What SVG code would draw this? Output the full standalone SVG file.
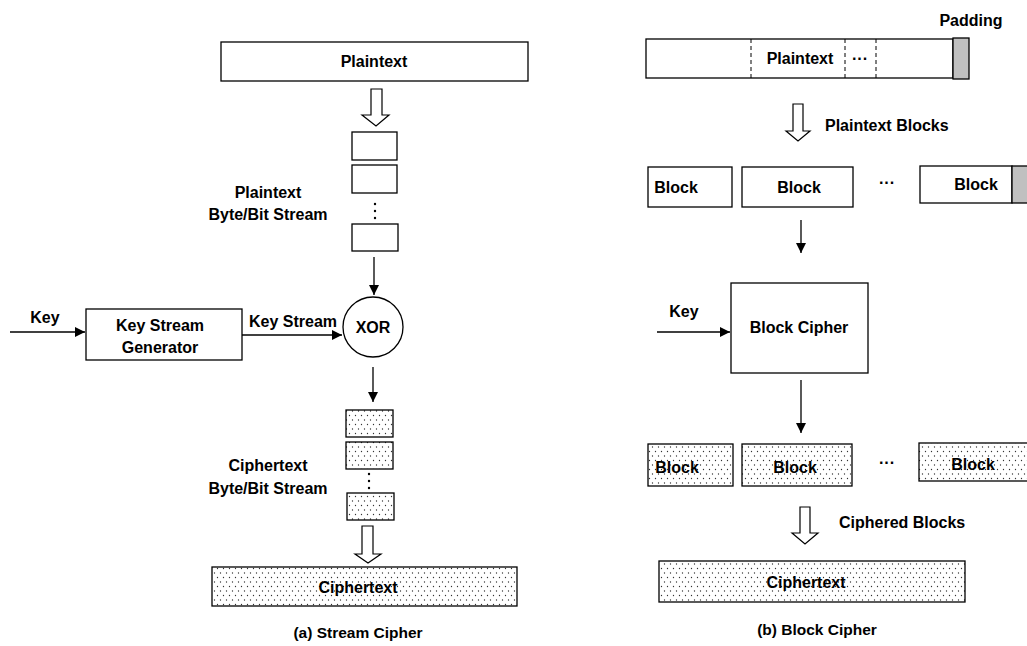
<svg xmlns="http://www.w3.org/2000/svg" width="1027" height="646" viewBox="0 0 1027 646">
<defs>
<pattern id="dots" width="6" height="9" patternUnits="userSpaceOnUse">
<rect width="6" height="9" fill="#fff"/>
<circle cx="1.5" cy="1.5" r="0.65" fill="#333"/>
<circle cx="4.5" cy="6" r="0.65" fill="#333"/>
</pattern>
<marker id="arr" viewBox="0 0 10 10" refX="10" refY="5" markerWidth="10" markerHeight="10" markerUnits="userSpaceOnUse" orient="auto">
<path d="M0,0 L10,5 L0,10 z" fill="#000"/>
</marker>
</defs>
<style>
text{font-family:"Liberation Sans",Arial,sans-serif;font-weight:bold;font-size:16px;fill:#000}
.m{text-anchor:middle}
.cap{font-size:15.5px}
.box{fill:#fff;stroke:#000;stroke-width:1.3}
.dot{fill:url(#dots);stroke:#000;stroke-width:1.3}
.pad{fill:#c0c0c0;stroke:#000;stroke-width:1.3}
.ln{stroke:#000;stroke-width:1.3;fill:none}
.hol{fill:#fff;stroke:#000;stroke-width:1.2}
.dash{stroke:#000;stroke-width:1;stroke-dasharray:4,3}
</style>
<rect width="1027" height="646" fill="#fff"/>

<!-- (a) Stream cipher -->
<g id="plaintext-a"><rect class="box" x="221" y="42" width="307" height="39"/><text class="m" x="374" y="67">Plaintext</text></g>
<g id="pt-stream">
<rect class="box" x="352" y="132" width="45" height="28"/>
<rect class="box" x="352" y="165" width="45" height="28"/>
<circle cx="375" cy="204" r="1.2"/><circle cx="375" cy="211" r="1.2"/><circle cx="375" cy="218" r="1.2"/>
<rect class="box" x="352" y="224" width="46" height="27"/>
<text class="m" x="268" y="198">Plaintext</text>
<text class="m" x="268" y="220">Byte/Bit Stream</text>
</g>
<g id="keygen"><rect class="box" x="86" y="309" width="156" height="51"/><text class="m" x="160" y="331">Key Stream</text><text class="m" x="160" y="353">Generator</text></g>
<g id="xor"><circle class="box" cx="373" cy="327" r="30"/><text class="m" x="373" y="333">XOR</text></g>
<g id="ct-stream">
<rect class="dot" x="346" y="410" width="47" height="27"/>
<rect class="dot" x="346" y="442" width="47" height="27"/>
<circle cx="369" cy="474" r="1.2"/><circle cx="369" cy="481" r="1.2"/><circle cx="369" cy="488" r="1.2"/>
<rect class="dot" x="347" y="493" width="47" height="27"/>
<text class="m" x="268" y="471">Ciphertext</text>
<text class="m" x="268" y="494">Byte/Bit Stream</text>
</g>
<g id="ciphertext-a"><rect class="dot" x="212" y="567" width="305" height="39"/><text class="m" x="358" y="593">Ciphertext</text></g>
<g id="caption-a"><text class="m cap" x="358" y="638">(a) Stream Cipher</text></g>

<!-- (b) Block cipher -->
<g id="plaintext-b">
<rect class="box" x="646" y="39" width="307" height="39"/>
<rect class="pad" x="953" y="38" width="16" height="41"/>
<line class="dash" x1="751" y1="39" x2="751" y2="78"/>
<line class="dash" x1="845" y1="39" x2="845" y2="78"/>
<line class="dash" x1="876" y1="39" x2="876" y2="78"/>
<text class="m" x="800" y="64">Plaintext</text>
<text class="m" x="860" y="64">···</text>
<text class="m" x="971" y="26">Padding</text>
</g>
<g id="blocks">
<rect class="box" x="648" y="167" width="84" height="40"/><text class="m" x="676" y="193">Block</text>
<rect class="box" x="742" y="167" width="111" height="40"/><text class="m" x="799" y="193">Block</text>
<text class="m" x="887" y="188">···</text>
<rect class="box" x="920" y="166" width="92" height="37"/><rect class="pad" x="1012" y="166" width="20" height="37"/><text class="m" x="976" y="190">Block</text>
</g>
<g id="blockcipher"><rect class="box" x="731" y="283" width="137" height="90"/><text class="m" x="799" y="333">Block Cipher</text></g>
<g id="cblocks">
<rect class="dot" x="648" y="444" width="85" height="42"/><text class="m" x="677" y="473">Block</text>
<rect class="dot" x="742" y="444" width="110" height="42"/><text class="m" x="795" y="473">Block</text>
<text class="m" x="887" y="468">···</text>
<rect class="dot" x="919" y="443" width="112" height="38"/><text class="m" x="973" y="470">Block</text>
</g>
<g id="ciphertext-b"><rect class="dot" x="659" y="561" width="306" height="41"/><text class="m" x="806" y="588">Ciphertext</text></g>
<g id="caption-b"><text class="m cap" x="817" y="635">(b) Block Cipher</text></g>

<g id="connectors">
<path class="hol" d="M371,89 H382 V115 H389 L376,126 L362,115 H371 Z"/>
<line class="ln" x1="374" y1="257" x2="374" y2="295" marker-end="url(#arr)"/>
<line class="ln" x1="10" y1="332" x2="85" y2="332" marker-end="url(#arr)"/>
<text class="m" x="45" y="323">Key</text>
<line class="ln" x1="242" y1="335" x2="342" y2="335" marker-end="url(#arr)"/>
<text class="m" x="293" y="327">Key Stream</text>
<line class="ln" x1="373" y1="367" x2="373" y2="402" marker-end="url(#arr)"/>
<path class="hol" d="M362,526 H373 V554 H381 L368,563 L355,554 H362 Z"/>

<path class="hol" d="M793,104 H803 V131 H810 L798,141 L786,131 H793 Z"/>
<text x="825" y="131">Plaintext Blocks</text>
<line class="ln" x1="801" y1="220" x2="801" y2="253" marker-end="url(#arr)"/>
<line class="ln" x1="657" y1="332" x2="730" y2="332" marker-end="url(#arr)"/>
<text class="m" x="684" y="317">Key</text>
<line class="ln" x1="801" y1="380" x2="801" y2="433" marker-end="url(#arr)"/>
<path class="hol" d="M800,507 H810 V533 H818 L805,544 L792,533 H800 Z"/>
<text x="839" y="528">Ciphered Blocks</text>
</g>
</svg>
